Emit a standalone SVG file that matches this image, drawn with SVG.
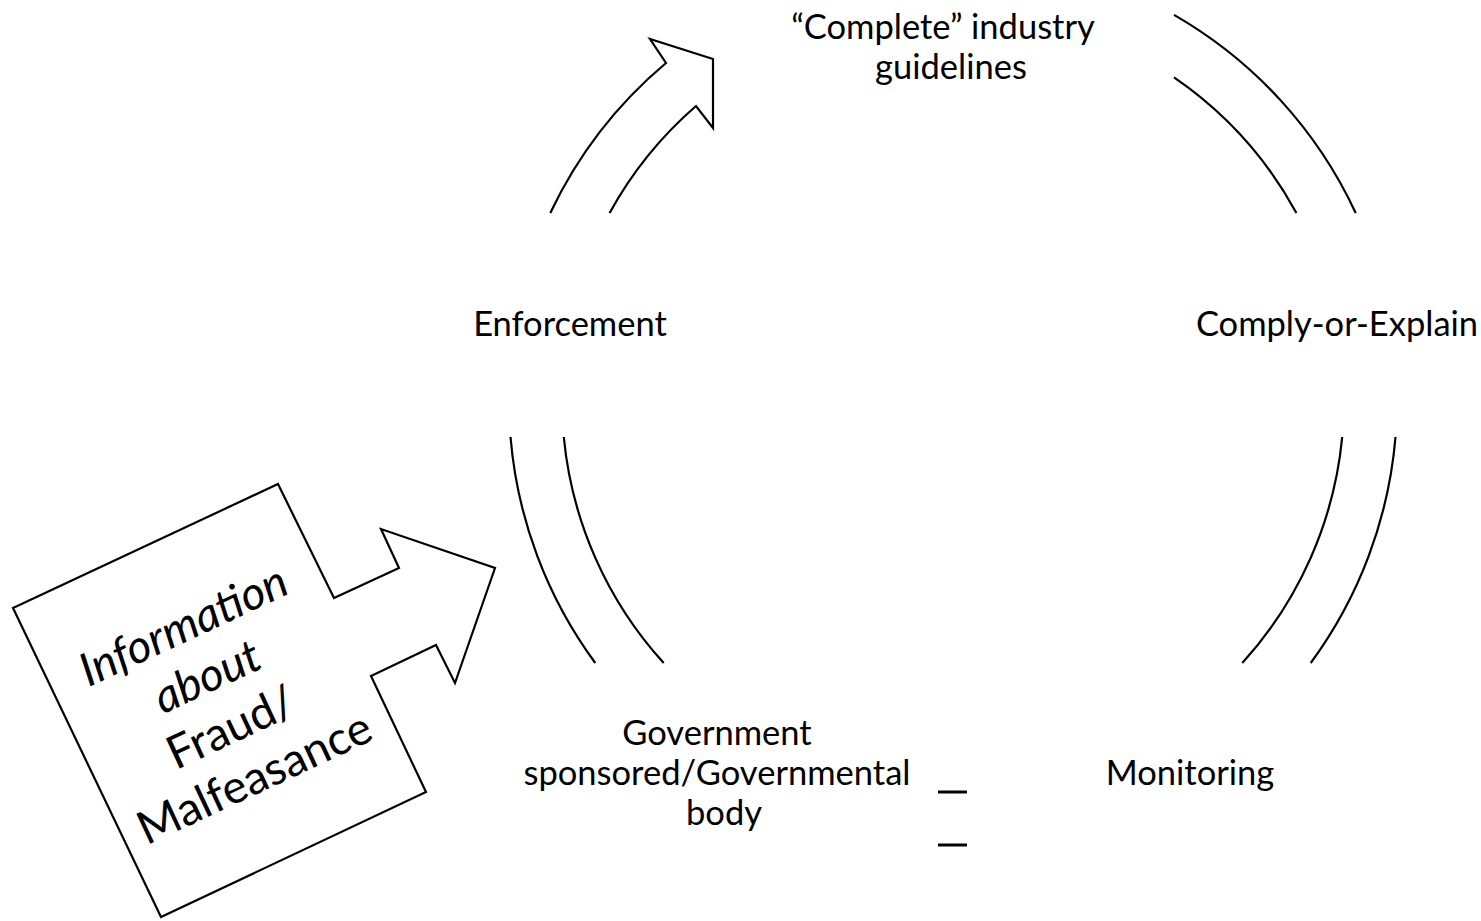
<svg xmlns="http://www.w3.org/2000/svg" width="1481" height="921" viewBox="0 0 1481 921">
<style>
.bg{fill:#ffffff}
.ln{fill:none;stroke:#000000;stroke-width:2.2;stroke-linejoin:miter}
.shape{fill:#ffffff;stroke:#000000;stroke-width:2.2;stroke-linejoin:miter}
.lbl{font-family:Lato,"Liberation Sans",sans-serif;font-size:34.5px;fill:#000000;text-anchor:middle}
.info{font-family:Lato,"Liberation Sans",sans-serif;font-size:46px;fill:#000000;text-anchor:middle}
.it{font-style:italic}
.dash{stroke:#000000;stroke-width:3}
</style>
<rect class="bg" x="0" y="0" width="1481" height="921"/>
<g id="connectors">
<path id="arc-enforcement-to-guidelines" class="ln" d="M 550.3,213 A 444 444 0 0 1 666,63 L 650,39 L 713,59 L 713,128 L 696,106 A 391 391 0 0 0 609.6,213"/>
<g id="arc-guidelines-to-comply">
<path class="ln" d="M 1174,14.9 A 444 444 0 0 1 1355.7,213"/>
<path class="ln" d="M 1174,77.4 A 391 391 0 0 1 1296.4,213"/>
</g>
<g id="arc-comply-to-monitoring">
<path class="ln" d="M 1395.5,437 A 444 444 0 0 1 1310.7,663"/>
<path class="ln" d="M 1342.2,437 A 391 391 0 0 1 1242.3,663"/>
</g>
<g id="arc-government-to-enforcement">
<path class="ln" d="M 510.5,437 A 444 444 0 0 0 595.3,663"/>
<path class="ln" d="M 563.8,437 A 391 391 0 0 0 663.7,663"/>
</g>
</g>
<g id="node-guidelines">
<text class="lbl" x="943" y="39">“Complete” industry</text>
<text class="lbl" x="951" y="79">guidelines</text>
</g>
<g id="node-enforcement">
<text class="lbl" x="570" y="336">Enforcement</text>
</g>
<g id="node-comply">
<text class="lbl" x="1337" y="336">Comply-or-Explain</text>
</g>
<g id="node-monitoring">
<text class="lbl" x="1190" y="785">Monitoring</text>
</g>
<g id="node-government">
<text class="lbl" x="717" y="745">Government</text>
<text class="lbl" x="717" y="785">sponsored/Governmental</text>
<text class="lbl" x="724" y="825">body</text>
<line class="dash" x1="938" y1="792" x2="967" y2="792"/>
<line class="dash" x1="938" y1="845" x2="967" y2="845"/>
</g>
<g id="node-information">
<polygon class="shape" points="13,608 278,484 334,598 399,568 381,529 495,568 455,683 436,645 371,676 426,792 161,917"/>
<g transform="translate(190,640) rotate(-25)">
<text class="info it" x="0" y="0">Information</text>
<text class="info it" x="0" y="56">about</text>
<text class="info" x="0" y="112">Fraud/</text>
<text class="info" x="0" y="168">Malfeasance</text>
</g>
</g>
</svg>
